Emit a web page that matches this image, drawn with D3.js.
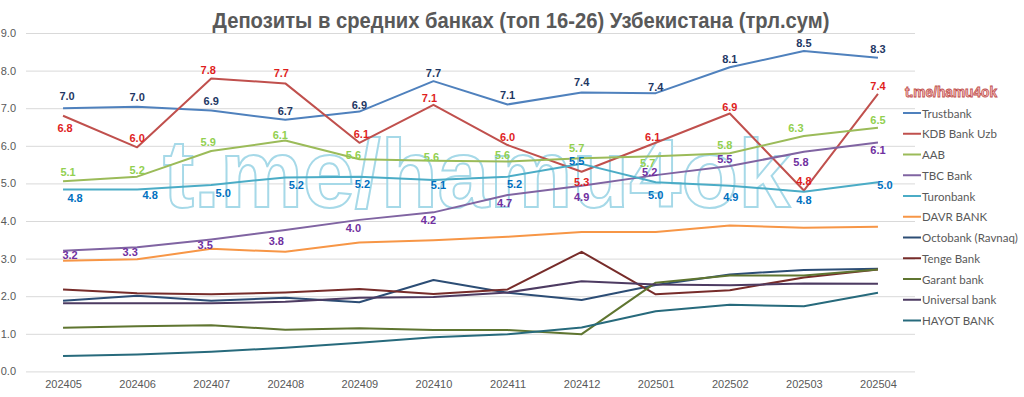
<!DOCTYPE html>
<html>
<head>
<meta charset="utf-8">
<script src="https://cdn.jsdelivr.net/npm/d3@7"></script>
<style>
  body { margin: 0; background: #fff; }
  svg { display: block; }
</style>
</head>
<body>
<figure id="chart" style="margin:0"></figure>
<script>
// months on the x axis
const months = ["202405", "202406", "202407", "202408", "202409", "202410",
  "202411", "202412", "202501", "202502", "202503", "202504"];
const yTicks = [0, 1, 2, 3, 4, 5, 6, 7, 8, 9];

const bankNames = ["Trustbank", "KDB Bank Uzb", "AAB", "TBC Bank", "Turonbank", "DAVR BANK",
  "Octobank (Ravnaq)", "Tenge Bank", "Garant bank", "Universal bank", "HAYOT BANK"];

// deposits, trln sum
const trustbank = [7.00, 7.04, 6.94, 6.69, 6.91, 7.72, 7.10, 7.42, 7.40, 8.09, 8.52, 8.34];
const kdbBank   = [6.80, 5.96, 7.79, 7.66, 6.08, 7.09, 6.02, 5.31, 6.08, 6.86, 4.81, 7.38];
const aab       = [5.06, 5.18, 5.86, 6.14, 5.64, 5.60, 5.58, 5.67, 5.72, 5.80, 6.26, 6.48];
const tbcBank   = [3.21, 3.30, 3.51, 3.76, 4.03, 4.23, 4.69, 4.94, 5.22, 5.46, 5.84, 6.09];
const turonbank = [4.84, 4.84, 4.96, 5.16, 5.18, 5.09, 5.18, 5.52, 5.03, 4.94, 4.78, 5.03];
const davrBank  = [2.94, 2.98, 3.26, 3.18, 3.43, 3.49, 3.58, 3.71, 3.71, 3.88, 3.82, 3.85];
const octobank  = [1.88, 2.01, 1.88, 1.96, 1.84, 2.43, 2.09, 1.90, 2.30, 2.58, 2.70, 2.73];
const tengeBank = [2.18, 2.08, 2.05, 2.10, 2.19, 2.06, 2.18, 3.18, 2.05, 2.16, 2.50, 2.71];
const garant    = [1.16, 1.20, 1.23, 1.11, 1.15, 1.10, 1.10, 0.99, 2.36, 2.55, 2.55, 2.71];
const universal = [1.81, 1.81, 1.81, 1.85, 1.96, 1.98, 2.10, 2.40, 2.31, 2.29, 2.34, 2.33];
const hayot     = [0.41, 0.45, 0.52, 0.63, 0.76, 0.91, 0.99, 1.17, 1.60, 1.77, 1.73, 2.09];

const allSeries = [trustbank, kdbBank, aab, tbcBank, turonbank, davrBank,
  octobank, tengeBank, garant, universal, hayot];

const lineColors = ["#4f81bd", "#c0504d", "#9bbb59", "#8064a2", "#4bacc6", "#f79646",
  "#2c4d75", "#772c2a", "#5f7530", "#4d3b62", "#276a7c"];

// only the first five series carry value labels
const labelColors = ["#1f3864", "#e01e1e", "#92d050", "#7030a0", "#0070c0"];
// label offsets from the point (dx, dy of label centre)
const labelOffsets = [
  [[4,-12],[0,-10],[0,-9],[0,-9],[0,-7],[0,-8],[0,-9],[0,-10],[0,-6],[0,-8],[0,-8],[0,-9]],
  [[2,12],[0,-9],[-3,-8],[-4,-10],[2,-9],[-4,-7],[0,-8],[0,10],[-3,-6],[0,-6],[0,-10],[0,-8]],
  [[5,-9],[0,-7],[-3,-9],[-5,-6],[-6,-4],[-2,-4],[-5,-7],[-5,-10],[-8,7],[-5,-8],[-8,-8],[0,-8]],
  [[7,4],[-7,5],[-6,6],[-9,11],[-6,8],[-5,8],[-3,8],[0,11],[-6,-3],[-5,-7],[-3,10],[0,8]],
  [[12,9],[13,6],[12,8],[11,8],[3,7],[5,5],[7,7],[-5,-3],[0,13],[1,11],[0,8],[7,3]]
];

const W = 1024, H = 397;
const plotLeft = 26, plotRight = 915, plotTop = 33, plotBottom = 371.4;

const svg = d3.select("figure#chart")
  .append("svg")
  .attr("width", W)
  .attr("height", H)
  .style("font-family", "'Liberation Sans', Arial, sans-serif");

const x = d3.scalePoint()
  .domain(months)
  .range([plotLeft, plotRight])
  .padding(0.5);

const y = d3.scaleLinear()
  .domain([0, 9])
  .range([plotBottom, plotTop]);

// gridlines
const grid = svg.append("g")
  .attr("transform", "translate(" + plotLeft + ",0)")
  .call(d3.axisLeft(y).tickValues(yTicks).tickSize(-(plotRight - plotLeft)).tickFormat(""));
grid.select(".domain").remove();
grid.selectAll("line").attr("stroke", "#d9d9d9").attr("stroke-width", 1);

// y labels
const yAxis = svg.append("g")
  .attr("transform", "translate(" + plotLeft + ",0)")
  .call(d3.axisLeft(y).tickValues(yTicks).tickSize(0).tickPadding(10).tickFormat(d3.format(".1f")));
yAxis.select(".domain").remove();
yAxis.selectAll("text")
  .attr("fill", "#595959")
  .style("font-size", "11px")
  .style("font-family", "'Liberation Sans', Arial, sans-serif");

// x labels
const xAxis = svg.append("g")
  .attr("transform", "translate(0," + plotBottom + ")")
  .call(d3.axisBottom(x).tickSize(0).tickPadding(9));
xAxis.select(".domain").remove();
xAxis.selectAll("text")
  .attr("fill", "#595959")
  .style("font-size", "11px")
  .style("font-family", "'Liberation Sans', Arial, sans-serif");

// watermark
svg.append("text")
  .attr("x", 163)
  .attr("y", 207)
  .attr("textLength", 627)
  .attr("lengthAdjust", "spacingAndGlyphs")
  .style("font-family", "'Liberation Sans', Arial, sans-serif")
  .style("font-weight", "bold")
  .style("font-size", "96px")
  .attr("fill", "#ffffff")
  .attr("fill-opacity", 0.6)
  .attr("stroke", "#a6d9e8")
  .attr("stroke-width", 2)
  .text("t.me/hamu4ok");

// lines
const line = d3.line()
  .x((d, i) => x(months[i]))
  .y(d => y(d));

svg.append("g")
  .selectAll("path")
  .data(allSeries)
  .enter()
  .append("path")
  .attr("d", d => line(d))
  .attr("fill", "none")
  .attr("stroke", (d, i) => lineColors[i])
  .attr("stroke-width", 2)
  .attr("stroke-linejoin", "round");

// value labels
const labels = svg.append("g")
  .style("font-family", "'Liberation Sans Narrow', 'Liberation Sans', Arial, sans-serif")
  .style("font-weight", "bold")
  .style("font-size", "11px");

labelColors.forEach((color, s) => {
  labels.selectAll(null)
    .data(allSeries[s])
    .enter()
    .append("text")
    .attr("x", (d, i) => x(months[i]) + labelOffsets[s][i][0])
    .attr("y", (d, i) => y(d) + labelOffsets[s][i][1])
    .attr("text-anchor", "middle")
    .attr("dominant-baseline", "central")
    .attr("fill", color)
    .text(d => d3.format(".1f")(d));
});

// title
svg.append("text")
  .attr("x", 521)
  .attr("y", 28)
  .attr("text-anchor", "middle")
  .attr("textLength", 617)
  .attr("lengthAdjust", "spacingAndGlyphs")
  .style("font-family", "'Liberation Sans Narrow', 'Liberation Sans', Arial, sans-serif")
  .style("font-weight", "bold")
  .style("font-size", "22px")
  .attr("fill", "#595959")
  .text("Депозиты в средних банках (топ 16-26) Узбекистана (трл.сум)");

// legend
const legend = svg.append("g")
  .attr("transform", "translate(903,113)");

legend.append("text")
  .attr("x", 48)
  .attr("y", -21)
  .attr("text-anchor", "middle")
  .attr("dominant-baseline", "central")
  .attr("textLength", 92)
  .attr("lengthAdjust", "spacingAndGlyphs")
  .style("font-family", "'Liberation Sans', Arial, sans-serif")
  .style("font-weight", "bold")
  .style("font-size", "14px")
  .attr("fill", "#f6c3c3")
  .attr("stroke", "#c0504d")
  .attr("stroke-width", 0.8)
  .text("t.me/hamu4ok");

const items = legend.selectAll("g.item")
  .data(bankNames)
  .enter()
  .append("g")
  .attr("class", "item")
  .attr("transform", (d, i) => "translate(0," + (i * 20.75) + ")");

items.append("line")
  .attr("x1", 0)
  .attr("x2", 18)
  .attr("stroke", (d, i) => lineColors[i])
  .attr("stroke-width", 2);

items.append("text")
  .attr("x", 19)
  .attr("dominant-baseline", "central")
  .style("font-family", "Lato, 'Liberation Sans', sans-serif")
  .style("font-size", "11.5px")
  .attr("fill", "#595959")
  .text(d => d);
</script>
</body>
</html>
